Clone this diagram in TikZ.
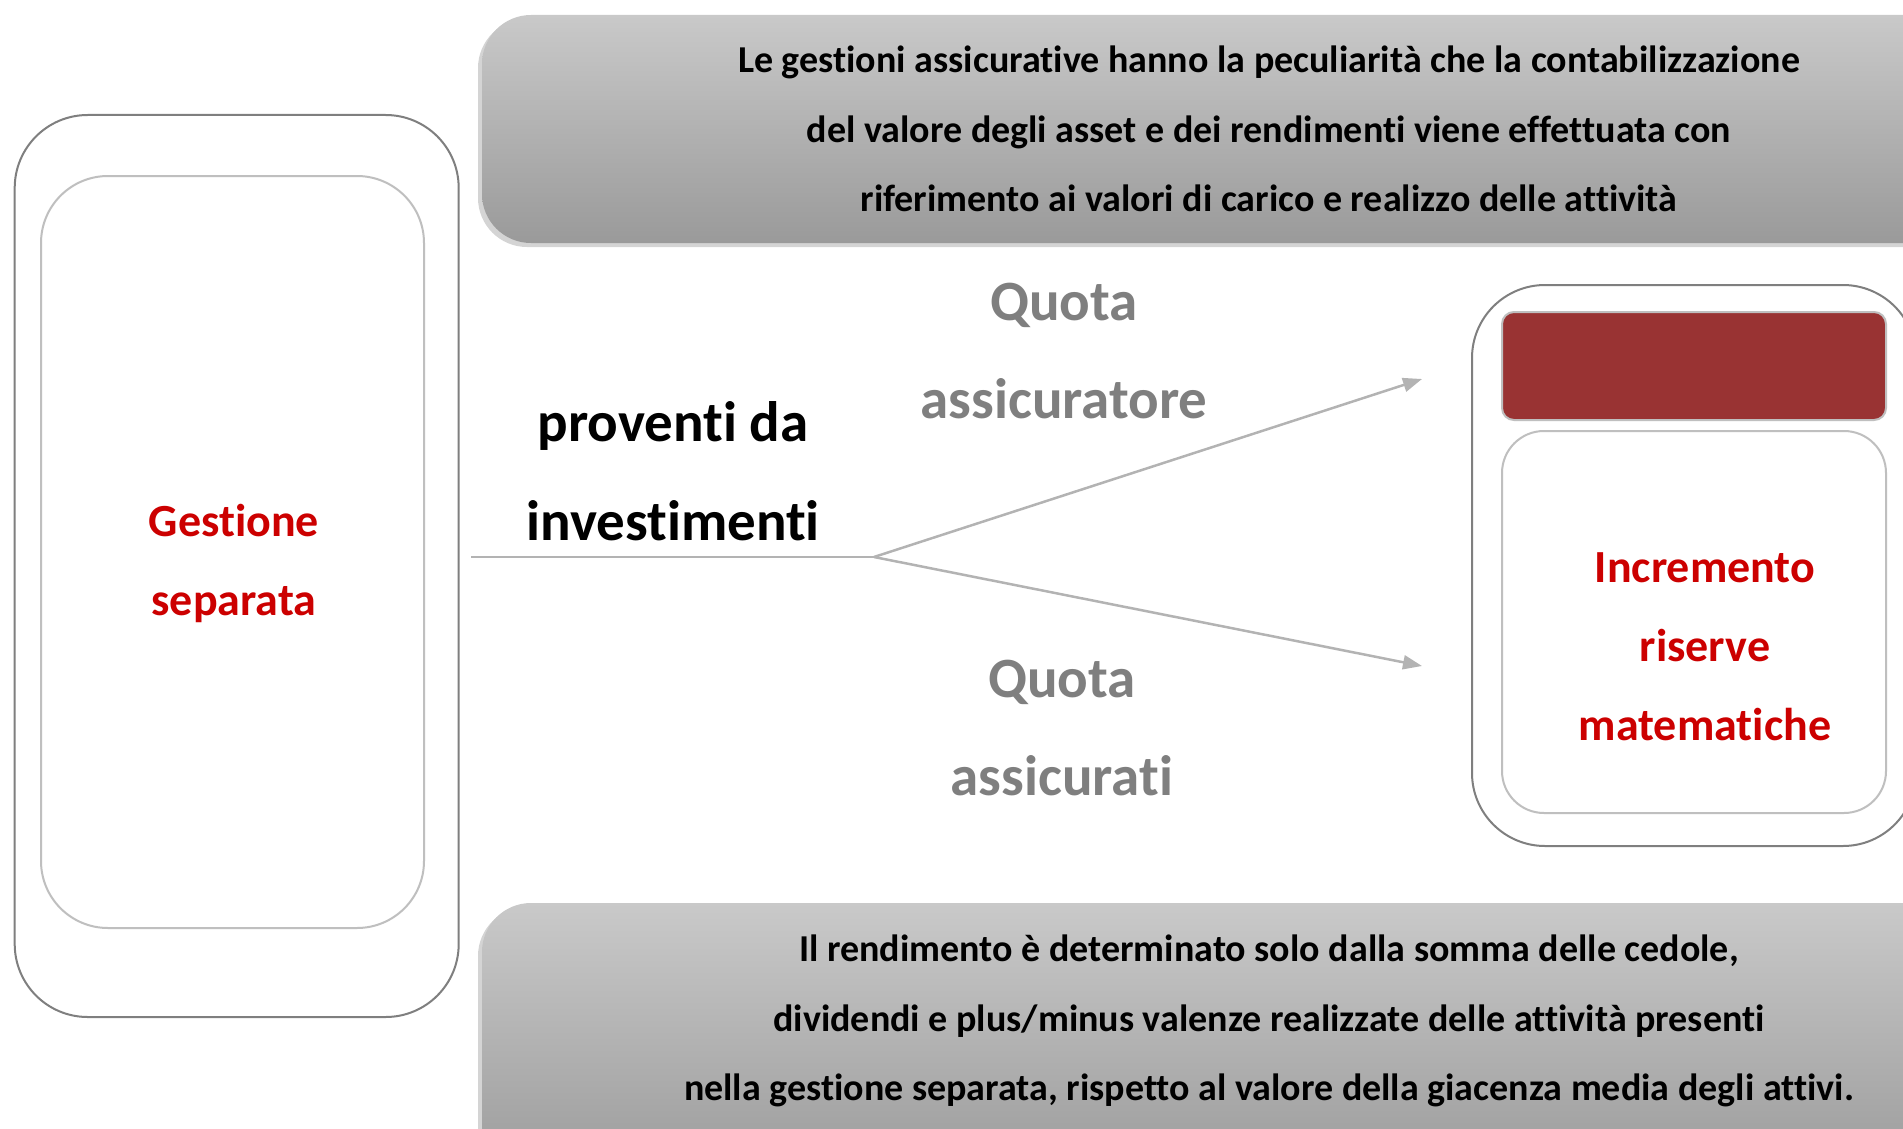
\documentclass[tikz,border=0pt]{standalone}
\usepackage{fontspec}
\setmainfont{Carlito}[Ligatures={NoCommon}]
\usetikzlibrary{arrows.meta}
\definecolor{outerc}{HTML}{7F7F7F}
\definecolor{innerc}{HTML}{BFBFBF}
\definecolor{bantop}{HTML}{C9C9C9}
\definecolor{banbot}{HTML}{9A9A9A}
\definecolor{banshadow}{HTML}{D4D4D4}
\definecolor{redtxt}{HTML}{CC0000}
\definecolor{redbox}{HTML}{993333}
\definecolor{quotac}{HTML}{7F7F7F}
\definecolor{linec}{HTML}{B3B3B3}
\begin{document}
\begin{tikzpicture}[x=1pt,y=-1pt,
  outerbox/.style={draw=outerc, line width=2pt, rounded corners=73pt, inner sep=0pt, fill=white},
  innerbox/.style={draw=innerc, line width=2pt, inner sep=0pt, fill=white},
  banner/.style={top color=bantop, bottom color=banbot, rounded corners=49pt, inner sep=0pt},
  bantext/.style={align=center, inner sep=0pt, font=\bfseries\fontsize{38}{69.5}\selectfont},
  bigtext/.style={align=center, inner sep=0pt, font=\bfseries\fontsize{57}{98.5}\selectfont},
  redlabel/.style={align=center, inner sep=0pt, text=redtxt, font=\bfseries\fontsize{46}{79}\selectfont},
  flow/.style={draw=linec, line width=2.5pt},
  flowarrow/.style={flow, -{Triangle[length=19pt,width=14pt]}}
]
\useasboundingbox (0,0) rectangle (1903,1129);
\clip (0,0) rectangle (1903,1129);

% banners (extend beyond right edge)
\fill[banshadow, rounded corners=49pt] (478,19) rectangle (1990,247);
\node[banner, minimum width=1508pt, minimum height=228pt] (topban) at (1236,129) {};
\node[bantext] (toptext) at (1269,129) {Le gestioni assicurative hanno la peculiarità che la contabilizzazione\\del valore degli asset e dei rendimenti viene effettuata con\\riferimento ai valori di carico e realizzo delle attività};

\fill[banshadow, rounded corners=49pt] (478,907) rectangle (1990,1190);
\node[banner, minimum width=1508pt, minimum height=283pt] (botban) at (1236,1044.5) {};
\node[bantext] (bottext) at (1269,1021) {Il rendimento è determinato solo dalla somma delle cedole,\\dividendi e plus/minus valenze realizzate delle attività presenti\\nella gestione separata, rispetto al valore della giacenza media degli attivi.};

% left box
\node[outerbox, minimum width=444pt, minimum height=902pt] (lout) at (236.7,566) {};
\node[innerbox, rounded corners=67pt, minimum width=383pt, minimum height=752pt] (lin) at (232.5,552) {};
\node[redlabel] (gest) at (234,563) {Gestione\\separata};

% right box
\node[outerbox, minimum width=444pt, minimum height=561pt] (rout) at (1694,565.5) {};
\node[draw=innerc, line width=2pt, fill=redbox, rounded corners=12pt, inner sep=0pt, minimum width=384pt, minimum height=108pt] (rred) at (1694,366) {};
\node[innerbox, rounded corners=42pt, minimum width=384pt, minimum height=382pt] (rin) at (1694,622) {};
\node[redlabel] (incr) at (1705,647) {Incremento\\riserve\\matematiche};

% labels
\node[bigtext] (prov) at (673,471) {proventi da\\investimenti};
\node[bigtext, text=quotac] (qass) at (1064,351) {Quota\\assicuratore};
\node[bigtext, text=quotac] (qati) at (1062,728) {Quota\\assicurati};

% connectors
\coordinate (src) at (471,557);
\coordinate (split) at (874,557);
\coordinate (tupper) at (1422,379);
\coordinate (tlower) at (1422,666);
\draw[flow] (src) -- (split);
\draw[flowarrow] (split) -- (tupper);
\draw[flowarrow] (split) -- (tlower);
\end{tikzpicture}
\end{document}
